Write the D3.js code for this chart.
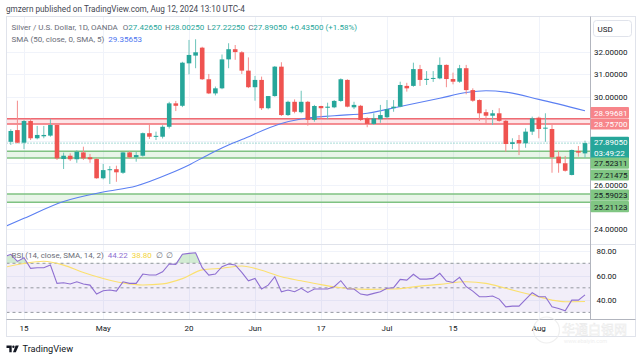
<!DOCTYPE html>
<html>
<head>
<meta charset="utf-8">
<script src="https://cdn.jsdelivr.net/npm/d3@7"></script>
<style>
  body { margin: 0; background: #fff; }
  svg { display: block; font-family: Roboto, "Noto Sans", sans-serif; }
</style>
</head>
<body>
<svg id="chart" width="643" height="361"></svg>
<script>
// daily candles, XAGUSD (OANDA)
const dates = [
  "2024-04-10","2024-04-11","2024-04-12","2024-04-15","2024-04-16","2024-04-17","2024-04-18","2024-04-19",
  "2024-04-22","2024-04-23","2024-04-24","2024-04-25","2024-04-26","2024-04-29","2024-04-30",
  "2024-05-01","2024-05-02","2024-05-03","2024-05-06","2024-05-07","2024-05-08","2024-05-09","2024-05-10",
  "2024-05-13","2024-05-14","2024-05-15","2024-05-16","2024-05-17","2024-05-20","2024-05-21","2024-05-22",
  "2024-05-23","2024-05-24","2024-05-27","2024-05-28","2024-05-29","2024-05-30","2024-05-31",
  "2024-06-03","2024-06-04","2024-06-05","2024-06-06","2024-06-07","2024-06-10","2024-06-11","2024-06-12",
  "2024-06-13","2024-06-14","2024-06-17","2024-06-18","2024-06-19","2024-06-20","2024-06-21","2024-06-24",
  "2024-06-25","2024-06-26","2024-06-27","2024-06-28",
  "2024-07-01","2024-07-02","2024-07-03","2024-07-04","2024-07-05","2024-07-08","2024-07-09","2024-07-10",
  "2024-07-11","2024-07-12","2024-07-15","2024-07-16","2024-07-17","2024-07-18","2024-07-19","2024-07-22",
  "2024-07-23","2024-07-24","2024-07-25","2024-07-26","2024-07-29","2024-07-30","2024-07-31",
  "2024-08-01","2024-08-02","2024-08-05","2024-08-06","2024-08-07","2024-08-08","2024-08-09","2024-08-12"
];
const opens = [
  28.18,27.95,28.48,27.91,28.89,28.11,28.20,28.23,28.71,27.17,27.32,27.16,27.47,27.25,27.17,
  26.30,26.67,26.71,26.55,27.47,27.25,27.32,28.34,28.20,28.18,28.63,29.69,29.58,31.50,31.85,32.21,
  30.78,30.14,30.37,31.68,32.14,32.00,31.17,
  30.42,30.75,29.47,30.02,31.35,29.16,29.76,29.29,29.76,28.94,29.57,29.49,29.51,29.80,30.75,29.51,
  29.58,29.01,28.76,28.97,
  29.06,29.47,29.54,30.48,30.48,31.24,30.75,30.80,30.82,31.43,30.79,30.67,31.28,30.29,29.84,29.29,
  29.13,29.24,28.90,27.85,28.03,27.88,28.41,
  29.04,28.56,28.53,27.28,26.98,26.45,27.53,27.4265
];
const highs = [
  28.30,28.52,29.81,28.94,29.01,28.67,28.67,28.98,28.74,27.46,27.43,27.57,27.73,27.40,27.22,
  26.95,26.85,26.87,27.48,27.52,27.50,28.37,28.79,28.41,28.70,29.76,29.80,31.57,32.56,32.59,32.25,
  31.02,30.45,31.90,32.41,32.33,32.05,31.77,
  30.93,30.90,30.02,31.38,31.55,29.81,29.87,30.26,29.80,29.62,29.58,29.72,29.84,30.82,30.78,29.76,
  29.62,29.06,29.24,29.62,
  29.84,29.84,30.67,30.62,31.53,31.43,31.15,31.15,31.77,31.45,31.08,31.43,31.43,30.37,29.87,29.42,
  29.39,29.47,28.94,28.11,28.26,28.56,29.09,
  29.09,29.24,28.71,27.53,27.31,27.60,27.76,28.0025
];
const lows = [
  27.90,27.81,27.88,27.62,28.03,28.06,28.11,28.18,27.13,26.72,27.08,27.00,27.13,27.00,26.28,
  26.25,26.04,26.14,26.50,27.20,27.05,27.28,28.08,28.03,28.10,28.55,29.34,29.52,31.00,31.28,30.75,
  30.11,30.05,30.33,31.28,31.66,31.02,30.38,
  29.81,29.39,29.42,29.99,29.12,29.12,29.24,29.24,28.68,28.86,29.01,28.97,29.47,29.76,29.51,29.43,
  28.89,28.61,28.71,28.81,
  29.01,29.31,29.51,30.22,30.44,30.48,30.52,30.66,30.78,30.42,30.55,30.62,30.10,29.76,28.89,28.79,
  28.71,28.86,27.50,27.62,27.35,27.68,28.26,
  28.11,27.95,26.55,26.55,26.60,26.43,27.28,27.2225
];
const closes = [
  28.03,28.44,27.91,28.89,28.11,28.26,28.26,28.71,27.20,27.32,27.16,27.50,27.20,27.16,26.30,
  26.67,26.71,26.57,27.47,27.25,27.35,28.34,28.18,28.22,28.63,29.69,29.58,31.53,31.88,32.00,30.78,
  30.14,30.37,31.68,32.14,32.01,31.17,30.42,
  30.75,29.47,30.02,31.35,29.16,29.76,29.31,29.76,28.94,29.57,29.47,29.54,29.80,30.78,29.54,29.62,
  28.94,28.76,29.01,29.16,
  29.43,29.54,30.52,30.37,31.24,30.75,30.80,30.84,31.43,30.79,30.67,31.28,30.29,29.81,29.24,29.13,
  29.24,28.90,27.85,27.93,27.88,28.41,29.01,
  28.53,28.59,27.25,26.98,26.64,27.58,27.46,27.8905
];

// SMA(50) of close, sampled along the blue line
const smaDates = ["2024-04-10","2024-04-15","2024-04-23","2024-05-01","2024-05-08","2024-05-15","2024-05-20",
  "2024-05-23","2024-05-27","2024-05-30","2024-06-07","2024-06-12","2024-06-19","2024-06-26","2024-07-03",
  "2024-07-11","2024-07-17","2024-07-22","2024-07-25","2024-08-01","2024-08-12"];
const smaValues = [24.10,24.49,25.25,25.68,25.95,26.50,26.90,27.38,27.67,28.05,28.78,28.98,29.13,29.24,29.55,
  29.92,30.18,30.26,30.20,29.87,29.35653];

// RSI(14) per candle
const rsi = [
  75.3,77.3,71.5,74.5,65.9,66.4,66.4,68.6,53.6,54.1,53.1,54.9,53.1,52.2,44.9,
  47.6,48.2,47.3,54.9,53.6,53.6,61.2,60.4,60.4,63.1,69.4,69.1,77.3,78.1,78.6,66.4,
  60.4,61.2,67.2,69.4,68.6,62.6,55.7,
  57.7,49.0,52.2,59.0,46.8,48.2,46.8,49.6,46.3,49.0,49.0,49.0,50.9,55.8,49.0,49.0,
  44.9,44.1,45.5,46.8,
  49.6,50.1,56.9,56.3,61.0,57.1,57.1,57.7,61.8,55.5,54.4,58.5,50.9,47.3,42.7,42.7,
  43.3,40.8,34.5,35.1,35.1,40.6,46.0,
  42.7,42.7,34.5,33.2,31.3,40.0,40.0,44.22
];
// SMA(14) of RSI, sampled along the yellow line
const rsiMaDates = ["2024-04-10","2024-04-15","2024-04-18","2024-04-23","2024-04-26","2024-05-01","2024-05-06",
  "2024-05-09","2024-05-14","2024-05-17","2024-05-22","2024-05-27","2024-05-30","2024-06-04","2024-06-07",
  "2024-06-12","2024-06-17","2024-06-20","2024-06-26","2024-07-02","2024-07-08","2024-07-11","2024-07-17",
  "2024-07-22","2024-07-25","2024-07-31","2024-08-05","2024-08-07","2024-08-12"];
const rsiMaValues = [66.6,69.8,71.6,68.5,62.5,57.6,54.0,52.3,53.2,57.5,64.6,66.0,67.8,64.3,59.0,
  55.7,52.6,50.0,48.7,49.0,51.4,52.8,54.9,53.6,49.6,44.1,40.0,38.6,38.8];

const resistance = [28.99681, 28.75700];
const supportHigh = [27.52311, 25.59023];
const supportLow = [27.21475, 25.21123];
const lastClose = 27.89050;

const gridPrices = [24, 25, 26, 27, 28, 29, 30, 31, 32];
const priceLabels = [32, 31, 30, 26, 24];
const rsiGrid = [80, 60, 40];
const rsiLevels = [70, 50, 30];
const tickDates = ["2024-04-15","2024-05-01","2024-05-20","2024-06-03","2024-06-17","2024-07-01","2024-07-15","2024-08-01"];
const tickLabels = ["15", "May", "20", "Jun", "17", "Jul", "15", "Aug"];

// layout
const plotL = 6.5, plotR = 590.5, mainT = 16.5, mainB = 244.5, rsiB = 319.5, axisB = 336.5, frameR = 635.5;
const up = "#26a69a", down = "#ef5350";

const svg = d3.select("#chart");
const x = d3.scalePoint().domain(dates).range([4.2, 585]);
const y = d3.scaleLinear().domain([24, 32]).range([229.1, 52.3]);
const yR = d3.scaleLinear().domain([40, 80]).range([300.1, 251]);

const defs = svg.append("defs");
defs.append("clipPath").attr("id", "clipMain").append("rect")
  .attr("x", plotL).attr("y", mainT).attr("width", plotR - plotL).attr("height", mainB - mainT);
defs.append("clipPath").attr("id", "clipRsi").append("rect")
  .attr("x", plotL).attr("y", mainB).attr("width", plotR - plotL).attr("height", rsiB - mainB);
defs.append("clipPath").attr("id", "clipOb").append("rect")
  .attr("x", plotL).attr("y", mainB).attr("width", plotR - plotL).attr("height", yR(70) - mainB);

// header
svg.append("text").attr("x", 6).attr("y", 12).attr("font-size", 8.2).attr("fill", "#434651")
  .text("gmzern published on TradingView.com, Aug 12, 2024 13:10 UTC-4");

// grid
const grid = svg.append("g");
grid.selectAll(".hg").data(gridPrices).join("line")
  .attr("x1", plotL).attr("x2", plotR)
  .attr("y1", d => Math.round(y(d)) + 0.5).attr("y2", d => Math.round(y(d)) + 0.5)
  .attr("stroke", "#f0f3fa");
grid.selectAll(".rg").data(rsiGrid).join("line")
  .attr("x1", plotL).attr("x2", plotR)
  .attr("y1", d => Math.round(yR(d)) + 0.5).attr("y2", d => Math.round(yR(d)) + 0.5)
  .attr("stroke", "#f0f3fa");
grid.selectAll(".vg").data(tickDates).join("line")
  .attr("x1", d => Math.round(x(d)) + 0.5).attr("x2", d => Math.round(x(d)) + 0.5)
  .attr("y1", mainT).attr("y2", rsiB)
  .attr("stroke", "#f0f3fa");

// main pane
const main = svg.append("g").attr("clip-path", "url(#clipMain)");

main.append("rect")
  .attr("x", plotL).attr("width", plotR - plotL)
  .attr("y", y(resistance[0])).attr("height", y(resistance[1]) - y(resistance[0]))
  .attr("fill", "rgba(242,54,69,0.13)");
main.selectAll(".rl").data(resistance).join("line")
  .attr("x1", plotL).attr("x2", plotR).attr("y1", d => y(d)).attr("y2", d => y(d))
  .attr("stroke", "#f06b72").attr("stroke-width", 1.5);

supportHigh.forEach((hi, i) => {
  const lo = supportLow[i];
  main.append("rect")
    .attr("x", plotL).attr("width", plotR - plotL)
    .attr("y", y(hi)).attr("height", y(lo) - y(hi))
    .attr("fill", "rgba(76,175,80,0.13)");
  main.selectAll(null).data([hi, lo]).join("line")
    .attr("x1", plotL).attr("x2", plotR).attr("y1", d => y(d)).attr("y2", d => y(d))
    .attr("stroke", "#7fc282").attr("stroke-width", 1.5);
});

main.append("line")
  .attr("x1", plotL).attr("x2", plotR).attr("y1", y(lastClose)).attr("y2", y(lastClose))
  .attr("stroke", up).attr("stroke-dasharray", "1,2").attr("opacity", 0.8);

const smaLine = d3.line().x(d => x(d[0])).y(d => y(d[1])).curve(d3.curveMonotoneX);
main.append("path")
  .attr("d", smaLine(d3.zip(smaDates, smaValues)))
  .attr("fill", "none").attr("stroke", "#5b7ff2").attr("stroke-width", 1.1);

const candles = dates.map((d, i) => ({ d, o: opens[i], h: highs[i], l: lows[i], c: closes[i] }));
const bw = 4.6;
const cg = main.selectAll(".candle").data(candles).join("g");
cg.append("line")
  .attr("x1", d => x(d.d)).attr("x2", d => x(d.d))
  .attr("y1", d => y(d.h)).attr("y2", d => y(d.l))
  .attr("stroke", d => d.c >= d.o ? "#6cc4ba" : "#f48c8c").attr("stroke-width", 1);
cg.append("rect")
  .attr("x", d => x(d.d) - bw / 2).attr("width", bw)
  .attr("y", d => y(Math.max(d.o, d.c)))
  .attr("height", d => Math.max(1, Math.abs(y(d.o) - y(d.c))))
  .attr("fill", d => d.c >= d.o ? up : down);

// rsi pane
const rp = svg.append("g").attr("clip-path", "url(#clipRsi)");
rp.append("rect")
  .attr("x", plotL).attr("width", plotR - plotL)
  .attr("y", yR(70)).attr("height", yR(30) - yR(70))
  .attr("fill", "rgba(126,87,194,0.1)");
rp.selectAll(".lv").data(rsiLevels).join("line")
  .attr("x1", plotL).attr("x2", plotR).attr("y1", d => yR(d)).attr("y2", d => yR(d))
  .attr("stroke", "#9598a1").attr("stroke-dasharray", "3,3");

const rsiPts = d3.zip(dates, rsi);
rp.append("path")
  .attr("clip-path", "url(#clipOb)")
  .attr("d", d3.area().x(d => x(d[0])).y0(yR(70)).y1(d => yR(d[1]))(rsiPts))
  .attr("fill", "rgba(76,175,80,0.25)");
rp.append("path")
  .attr("d", d3.line().x(d => x(d[0])).y(d => yR(d[1])).curve(d3.curveMonotoneX)(d3.zip(rsiMaDates, rsiMaValues)))
  .attr("fill", "none").attr("stroke", "#fbe06f").attr("stroke-width", 1.1);
rp.append("path")
  .attr("d", d3.line().x(d => x(d[0])).y(d => yR(d[1]))(rsiPts))
  .attr("fill", "none").attr("stroke", "#8e6fd1").attr("stroke-width", 1.1);

// frame + separators
svg.append("rect").attr("x", plotL).attr("y", mainT).attr("width", frameR - plotL).attr("height", axisB - mainT)
  .attr("fill", "none").attr("stroke", "#e0e3eb");
svg.append("line").attr("x1", plotL).attr("x2", frameR).attr("y1", mainB).attr("y2", mainB).attr("stroke", "#e0e3eb");
svg.append("line").attr("x1", plotL).attr("x2", frameR).attr("y1", rsiB).attr("y2", rsiB).attr("stroke", "#b2b5be");
svg.append("line").attr("x1", plotR).attr("x2", plotR).attr("y1", mainT).attr("y2", rsiB).attr("stroke", "#b2b5be");

// time axis
svg.append("g").selectAll("text").data(tickDates).join("text")
  .attr("x", d => x(d)).attr("y", 331).attr("text-anchor", "middle")
  .attr("font-size", 8).attr("fill", "#131722")
  .text((d, i) => tickLabels[i]);

// price axis
svg.append("g").selectAll("text").data(priceLabels).join("text")
  .attr("x", 594).attr("y", d => y(d) + 3).attr("font-size", 8).attr("fill", "#131722")
  .text(d => d.toFixed(5));
svg.append("g").selectAll("text").data(rsiGrid).join("text")
  .attr("x", 596.5).attr("y", d => yR(d) + 3).attr("font-size", 8).attr("fill", "#131722")
  .text(d => d.toFixed(2));

// price tags on the scale
const tagX = 590.5, tagW = 38.5, tagH = 11.2;
function tag(cy, fill, color, lines) {
  const g = svg.append("g");
  g.append("rect").attr("x", tagX).attr("y", cy - tagH / 2).attr("width", tagW)
    .attr("height", tagH * lines.length).attr("fill", fill).attr("rx", 1);
  lines.forEach((t, k) => {
    g.append("text").attr("x", tagX + 3.5).attr("y", cy + 3 + k * 10.5)
      .attr("font-size", 8).attr("fill", color).text(t);
  });
}
tag(112.7, "#f7858a", "#fff", [resistance[0].toFixed(5)]);
tag(124, "#f7858a", "#fff", [resistance[1].toFixed(5)]);
tag(142.4, up, "#fff", [lastClose.toFixed(5), "03:49:22"]);
tag(163.2, "#80c683", "#131722", [supportHigh[0].toFixed(5)]);
tag(175, "#80c683", "#131722", [supportLow[0].toFixed(5)]);
tag(195.2, "#80c683", "#131722", [supportHigh[1].toFixed(5)]);
tag(206.7, "#80c683", "#131722", [supportLow[1].toFixed(5)]);

// currency button
svg.append("rect").attr("x", 593.5).attr("y", 20.5).attr("width", 38).attr("height", 16).attr("rx", 3)
  .attr("fill", "#fff").attr("stroke", "#e0e3eb");
svg.append("text").attr("x", 597.5).attr("y", 31.5).attr("font-size", 8).attr("fill", "#131722").text("USD");

// legends
const lg = svg.append("text").attr("x", 11.5).attr("y", 29.5).attr("font-size", 8).attr("fill", "#6a6d78");
lg.append("tspan").text("Silver / U.S. Dollar, 1D, OANDA ");
[["O", opens[opens.length - 1].toFixed(5)], ["H", highs[highs.length - 1].toFixed(5)],
 ["L", lows[lows.length - 1].toFixed(5)], ["C", closes[closes.length - 1].toFixed(5)]].forEach(([k, v]) => {
  lg.append("tspan").attr("dx", 3).text(k);
  lg.append("tspan").attr("fill", up).text(v);
});
lg.append("tspan").attr("dx", 3).attr("fill", up).text("+0.43500 (+1.58%)");

const ls = svg.append("text").attr("x", 11.5).attr("y", 42).attr("font-size", 8).attr("fill", "#6a6d78");
ls.append("tspan").text("SMA (50, close, 0, SMA, 5)");
ls.append("tspan").attr("dx", 4).attr("fill", "#4c74f0").text(smaValues[smaValues.length - 1].toFixed(5));

const lr = svg.append("text").attr("x", 11.5).attr("y", 258).attr("font-size", 8).attr("fill", "#6a6d78");
lr.append("tspan").text("RSI (14, close, SMA, 14, 2)");
lr.append("tspan").attr("dx", 4).attr("fill", "#8e6fd1").text(rsi[rsi.length - 1].toFixed(2));
lr.append("tspan").attr("dx", 4).attr("fill", "#f2d43c").text(rsiMaValues[rsiMaValues.length - 1].toFixed(2));
lr.append("tspan").attr("dx", 4).text("\u2205");
lr.append("tspan").attr("dx", 3).text("\u2205");

// watermark
const wm = svg.append("g").attr("opacity", 0.8);
wm.append("circle").attr("cx", 546.5).attr("cy", 330).attr("r", 13).attr("fill", "none")
  .attr("stroke", "#ececec").attr("stroke-width", 1.2);
wm.append("text").attr("x", 562).attr("y", 334).attr("font-size", 13)
  .attr("font-family", "'Noto Sans CJK SC', sans-serif")
  .attr("fill", "#fff").attr("stroke", "#e4e4e4").attr("stroke-width", 0.5).text("华通白银网");
wm.append("text").attr("x", 564).attr("y", 342.5).attr("font-size", 5.5)
  .attr("fill", "#ececec").text("www.ebaiyin.com");

// TradingView logo
const logo = svg.append("g").attr("fill", "#131722");
logo.append("path").attr("d", "M6.5 345.5h5.2v6.8h-2.4v-4.4h-2.8z");
logo.append("circle").attr("cx", 13.4).attr("cy", 346.7).attr("r", 1.2);
logo.append("path").attr("d", "M15.6 345.5h3.2l-3 6.8h-2.8z");
logo.append("text").attr("x", 22.5).attr("y", 352).attr("font-size", 9.2).attr("fill", "#131722")
  .text("TradingView");
</script>
</body>
</html>
